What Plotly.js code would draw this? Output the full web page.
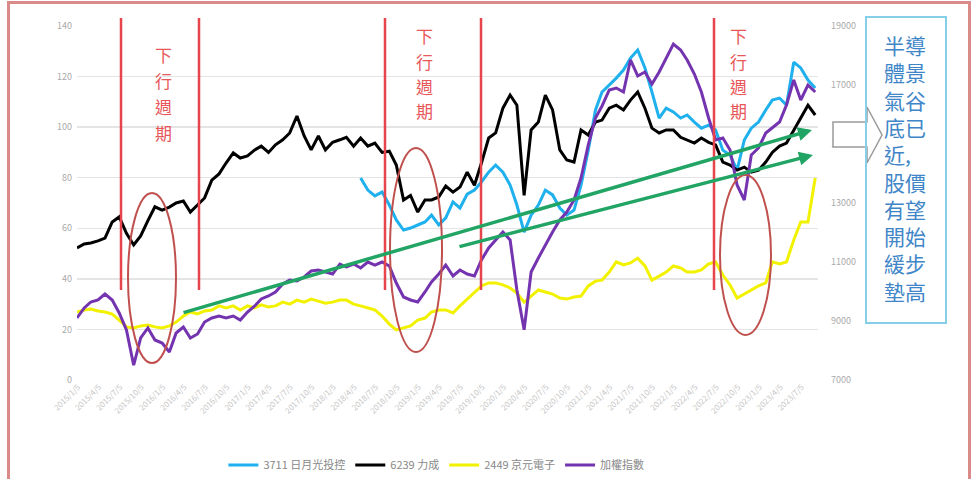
<!DOCTYPE html>
<html><head><meta charset="utf-8">
<script src="https://cdn.plot.ly/plotly-3.0.1.min.js"></script>
<style>
body{margin:0;background:#fff}
#chart{width:976px;height:479px}
#frame{position:absolute;left:7px;top:1px;width:964px;height:600px;box-sizing:border-box;border:3px solid #d98a89;pointer-events:none}
</style>
</head><body><div id="chart"></div><div id="frame"></div>
<script>
// monthly category dates, 2015-01 .. 2023-09
const months = [];
for (let i = 0; i < 105; i++) {
  const yr = 2015 + Math.floor(i / 12), mo = i % 12 + 1;
  months.push(yr + '-' + String(mo).padStart(2, '0') + '-01');
}
const aseStart = 40; // 3711 listed 2018

const asePrice = [79.9,75.1,72.8,74.3,69.2,63.3,59.3,60.1,61.3,62.5,
65.2,61.3,64.1,70.4,68,73.5,75.1,78.3,82.2,85,
82.2,77.1,69.2,58.5,65.2,69.2,75.1,73.2,68,65.2,
67.2,77.1,90.9,106.8,113.9,116.6,119.4,122.6,127.3,130.5,
123.4,113.9,103.6,107.5,106,103.6,104.8,102,99.6,100.8,
98.9,90.9,89,83,94.9,99.6,102,106.8,110.7,111.5,
108.7,125.7,123.4,118.6,115.5];

const ptiPrice = [52.2,53.8,54.2,55,56.1,62.5,64.5,58,53.4,57,
63,68.5,67.2,68.4,70,70.8,66.4,69.2,72,79,
81.5,85.8,89.8,87.8,88.6,91,92.5,90,93,95,
97.7,104.4,96.5,91,96.5,91,94,95,96,92.5,
95.7,92.5,93.7,90,90.5,85,71.2,73,66.4,71.2,
71.2,72.4,76.7,74.3,76.3,82.2,77,85.8,95.7,97.7,
107.5,112.7,108.7,73,98.9,102,112.7,106.8,91,87,
86.2,98.9,96.9,102,102.8,107.5,108.7,106.8,110.7,113.9,
107.5,99.6,97.7,98.9,98.9,96,94.9,93.7,95.7,94,
93,86.2,85,83,84.2,82.2,83,86.2,90,92.5,
93.7,98.9,103.6,108.7,104.8];

const kyecPrice = [26.9,27.7,28.1,27.3,26.9,26.1,23.7,21,20.6,21.4,
21.7,21,20.6,21.4,22.9,25.3,26.9,26.1,27.3,27.7,
29.3,28.5,29.3,27.7,29.3,28.5,29.7,28.9,29.3,30.8,
30,31.6,30.8,32,31.2,30.4,30.8,31.6,31.6,30,
29.3,28.5,27.7,25.3,22.1,19.8,20.6,21.4,23.7,24.5,
26.9,27.7,27.7,26.5,29.3,32,34.8,37.2,38.4,38.4,
37.6,36.4,34.4,30.8,33.2,35.6,34.8,34,32.4,32,
32.8,33.2,37.2,39.1,39.5,42.7,46.7,45.5,46.3,48.2,
45.1,39.5,41.1,42.7,45.1,44.3,42.7,42.7,43.5,45.9,
46.7,41.5,37.6,32.4,34,35.6,37.2,38.4,46.7,45.9,
46.7,55.4,62.5,62.5,79.9];

const taiex = [9102,9441,9644,9712,9915,9712,9271,8695,7500,8424,
8763,8356,8254,7949,8593,8797,8424,8559,8966,9102,
9170,9102,9170,9034,9305,9509,9746,9848,9983,10254,
10390,10356,10492,10695,10729,10661,10593,10932,10831,10932,
10797,11000,10898,11000,10865,10288,9814,9712,9644,9983,
10322,10593,10898,10526,10729,10593,10526,11068,11475,11746,
12017,11746,10051,8700,10661,11136,11577,12017,12424,12695,
13102,13848,14967,15882,16289,16831,16898,16763,17848,17306,
17441,17034,17441,17916,18390,18187,17848,17373,16763,15882,
15136,15204,14797,13610,13102,14627,14865,15373,15543,15746,
16322,17170,16492,17000,16763];

const seriesNames = ['3711 日月光投控', '6239 力成', '2449 京元電子', '加權指數'];
const cycleLabel = '下行週期';
const boxText = '半導<br>體景<br>氣谷<br>底已<br>近,<br>股價<br>有望<br>開始<br>緩步<br>墊高';

const traces = [
  {x: months.slice(aseStart), y: asePrice, name: seriesNames[0], type: 'scatter', mode: 'lines', line: {color: '#1fb0ee', width: 3}},
  {x: months, y: ptiPrice, name: seriesNames[1], type: 'scatter', mode: 'lines', line: {color: '#000000', width: 3}},
  {x: months, y: kyecPrice, name: seriesNames[2], type: 'scatter', mode: 'lines', line: {color: '#f2f200', width: 3}},
  {x: months, y: taiex, name: seriesNames[3], type: 'scatter', mode: 'lines', yaxis: 'y2', line: {color: '#7434b0', width: 3}}
];

// helpers: pixel -> paper for hand-drawn decorations
const PX = p => (p - 77) / 741;
const PY = p => (380 - p) / 354;
const redLine = {color: '#e8444c', width: 2.5};
const ell = {color: '#c0504d', width: 2};
const vline = px => ({type: 'line', xref: 'paper', yref: 'paper', x0: PX(px), x1: PX(px), y0: PY(290), y1: PY(18), line: redLine});
const oval = (x0, x1, y0, y1) => ({type: 'circle', xref: 'paper', yref: 'paper', x0: PX(x0), x1: PX(x1), y0: PY(y1), y1: PY(y0), line: ell});
const arrowPath = 'M' + [[833,122],[867,122],[867,107],[882,135],[867,163],[867,147],[833,147]].map(p => PX(p[0]) + ',' + PY(p[1])).join(' L') + ' Z';
const label = (px, py, txt, size, color, align) => ({xref: 'paper', yref: 'paper', x: PX(px), y: PY(py), xanchor: 'center', yanchor: 'middle',
  text: txt, showarrow: false, align: align || 'center', font: {size: size, color: color}});
// vertical text: one annotation per character
const vtext = (px, pyTop, step) => Array.from(cycleLabel).map((ch, k) => label(px, pyTop + k * step, ch, 17, '#e8585a'));

const layout = {
  width: 976, height: 479,
  margin: {l: 77, r: 158, t: 26, b: 99, autoexpand: false},
  paper_bgcolor: '#ffffff', plot_bgcolor: '#ffffff',
  font: {family: '"Noto Sans CJK TC", "Noto Sans", sans-serif', color: '#999'},
  showlegend: true,
  legend: {orientation: 'h', x: 0.485, xanchor: 'center', y: PY(465), yanchor: 'middle', font: {size: 11, color: '#888'},
           itemwidth: 30, tracegroupgap: 0},
  xaxis: {type: 'date', range: ['2015-01-01', '2023-09-13'], tick0: '2015-01-05', dtick: 'M3', tickformat: '%Y/%-m/%-d',
          tickangle: -45, tickfont: {size: 8, color: '#c6c6c6'}, showgrid: false, zeroline: false, showline: false, ticks: '', automargin: false},
  yaxis: {range: [0, 140], dtick: 20, gridcolor: '#e4e4e4', gridwidth: 1.5, zeroline: false, showline: false, ticks: '',
          tickfont: {size: 9, color: '#aaa'}, ticklabelstandoff: 4, automargin: false},
  yaxis2: {overlaying: 'y', side: 'right', range: [7000, 19000], tick0: 7000, dtick: 2000, tickformat: 'd', showgrid: false, zeroline: false, showline: false,
           ticks: '', tickfont: {size: 9, color: '#aaa'}, ticklabelstandoff: 12, automargin: false},
  shapes: [
    vline(121), vline(199), vline(385), vline(481), vline(714),
    oval(128, 176, 193, 363), oval(390, 442, 148, 352), oval(720, 771, 175, 335),
    {type: 'path', xref: 'paper', yref: 'paper', path: arrowPath, fillcolor: '#ffffff', line: {color: '#9a9a9a', width: 1.5}},
    {type: 'rect', xref: 'paper', yref: 'paper', x0: PX(866), x1: PX(946), y0: PY(323), y1: PY(17), line: {color: '#86cfe8', width: 2}}
  ],
  annotations: [
    {xref: 'paper', yref: 'paper', x: PX(812), y: PY(130), ax: 182 - 812, ay: 313 - 130, text: '', showarrow: true,
     arrowcolor: '#22a564', arrowwidth: 3.5, arrowhead: 2, arrowsize: 0.8, standoff: 0},
    {xref: 'paper', yref: 'paper', x: PX(813), y: PY(155), ax: 458 - 813, ay: 247 - 155, text: '', showarrow: true,
     arrowcolor: '#22a564', arrowwidth: 3.5, arrowhead: 2, arrowsize: 0.8, standoff: 0},
    ...vtext(163, 54, 26),
    ...vtext(424, 36, 25),
    ...vtext(738, 36, 25),
    label(905, 168, boxText, 21, '#3f86c8', 'left')
  ]
};

Plotly.newPlot('chart', traces, layout, {displayModeBar: false, staticPlot: true});
</script></body></html>
